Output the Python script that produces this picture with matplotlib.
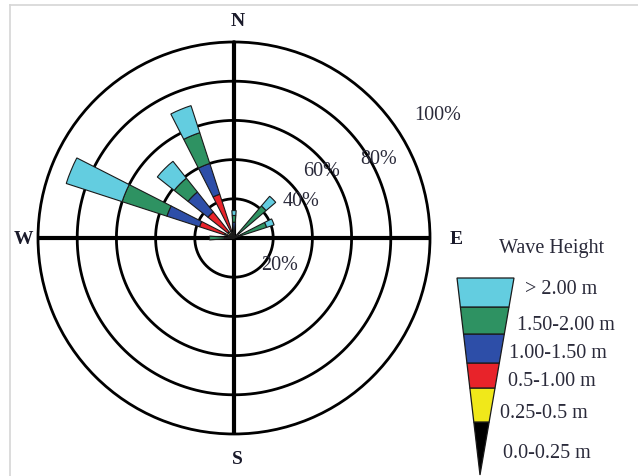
import numpy as np
import matplotlib
matplotlib.use("Agg")
import matplotlib.pyplot as plt
from matplotlib.patches import Polygon

# ---------------- data ----------------
directions = ['N', 'NNE', 'NE', 'ENE', 'E', 'ESE', 'SE', 'SSE',
              'S', 'SSW', 'SW', 'WSW', 'W', 'WNW', 'NW', 'NNW']
bands = ['0.0-0.25 m', '0.25-0.5 m', '0.5-1.00 m', '1.00-1.50 m', '1.50-2.00 m', '> 2.00 m']
#                 N    NNE  NE   ENE  E  ESE SE SSE S SSW SW WSW  W    WNW   NW    NNW
h_000_025 = [1.5, 0, 1.5, 1.5, 0, 0, 0, 0, 0, 0, 0, 0, 1.5, 2.0, 2.0, 2.0]
h_025_050 = [1.0, 0, 0.0, 0.0, 0, 0, 0, 0, 0, 0, 0, 0, 1.0, 3.0, 2.0, 2.0]
h_050_100 = [0.5, 0, 0.0, 0.0, 0, 0, 0, 0, 0, 0, 0, 0, 1.0, 13.5, 13.0, 19.5]
h_100_150 = [5.0, 0, 2.0, 1.0, 0, 0, 0, 0, 0, 0, 0, 0, 1.0, 17.5, 13.0, 16.5]
h_150_200 = [3.5, 0, 18.0, 15.0, 0, 0, 0, 0, 0, 0, 0, 0, 8.0, 24.0, 9.0, 16.5]
h_gt_200 = [2.5, 0, 6.5, 4.0, 0, 0, 0, 0, 0, 0, 0, 0, 0.0, 30.0, 11.0, 14.5]
ring_values = [20, 40, 60, 80, 100]
compass_labels = ['N', 'E', 'S', 'W']
legend_title = 'Wave Height'

# ---------------- style ----------------
band_colors = ['#000000', '#f0e81a', '#e8232a', '#2d4ea8', '#2e9262', '#63cde0']
bar_width_deg = {'NW': 13.0}
default_width_deg = 9.0
serif = ['Liberation Serif', 'DejaVu Serif']
txt_color = '#2a2a3a'

W, H = 638, 476
fig = plt.figure(figsize=(W / 100, H / 100), dpi=100)
fig.patch.set_facecolor('white')

cx, cy, R = 234, 238, 196
ax = fig.add_axes([(cx - R) / W, (H - cy - R) / H, 2 * R / W, 2 * R / H], projection='polar')
ax.set_theta_zero_location('N')
ax.set_theta_direction(-1)
ax.set_ylim(0, ring_values[-1])
ax.set_xticks([])
ax.set_yticks([])
ax.grid(False)
ax.set_facecolor('none')
ax.spines['polar'].set_linewidth(2)
ax.spines['polar'].set_color('black')

th = np.linspace(0, 2 * np.pi, 721)
for rv in ring_values[:-1]:
    ax.plot(th, np.full_like(th, rv), color='black', lw=2, zorder=1)
for ang in [0, 90, 180, 270]:
    t = np.deg2rad(ang)
    ax.plot([t, t], [0, ring_values[-1]], color='black', lw=3, zorder=1, solid_capstyle='butt')

series = [h_000_025, h_025_050, h_050_100, h_100_150, h_150_200, h_gt_200]
angles = np.deg2rad(np.arange(len(directions)) * 22.5)
widths = np.deg2rad([bar_width_deg.get(d, default_width_deg) for d in directions])
bottom = np.zeros(len(directions))
for vals, col in zip(series, band_colors):
    vals = np.array(vals, dtype=float)
    mask = vals > 0
    ax.bar(angles[mask], vals[mask], width=widths[mask], bottom=bottom[mask],
           color=col, edgecolor='#1a1a1a', linewidth=0.8, zorder=3, align='center')
    bottom += vals

# ---------------- overlay (pixel coords) ----------------
ov = fig.add_axes([0, 0, 1, 1], zorder=5)
ov.set_xlim(0, W)
ov.set_ylim(H, 0)
ov.axis('off')

# light frame
ov.plot([10, W], [5, 5], color='#d6d6d6', lw=1.2)
ov.plot([10, 10], [5, H], color='#d6d6d6', lw=1.2)

compass_pos = [(238, 22), (456, 240), (237, 460), (23, 240)]
for lab, (x, y) in zip(compass_labels, compass_pos):
    ov.text(x, y, lab, family=serif, fontsize=14, fontweight='bold', color='#1a1a2a',
            ha='center', va='center')

ring_label_pos = [(280, 265), (301, 202), (322, 171), (379, 160), (438, 116)]
for rv, (x, y) in zip(ring_values, ring_label_pos):
    ov.text(x, y, f'{rv}%', family=serif, fontsize=14.5, color=txt_color, ha='center', va='center')

ov.text(552, 248, legend_title, family=serif, fontsize=14.5, color=txt_color, ha='center', va='center')

# legend wedge
y_levels = [475, 422, 388, 363, 334, 307, 278]  # bottom (tip) to top
top_l, top_r, tip_x, y_top, y_tip = 457, 514, 480, 278, 475


def edge_x(y):
    f = (y - y_top) / (y_tip - y_top)
    return top_l + (tip_x - top_l) * f, top_r + (tip_x - top_r) * f


for i, col in enumerate(band_colors):
    yb, yt = y_levels[i], y_levels[i + 1]
    lb, rb = edge_x(yb)
    lt, rt = edge_x(yt)
    ov.add_patch(Polygon([(lb, yb), (lt, yt), (rt, yt), (rb, yb)], closed=True,
                         facecolor=col, edgecolor='#1a1a1a', lw=0.9))

legend_label_pos = [(503, 454), (500, 413), (508, 381), (509, 353), (517, 326), (525, 290)]
for lab, (x, y) in zip(bands, legend_label_pos):
    ov.text(x, y, lab, family=serif, fontsize=14.5, color=txt_color, ha='left', va='center')

fig.savefig('out.png', dpi=100, facecolor='white')
